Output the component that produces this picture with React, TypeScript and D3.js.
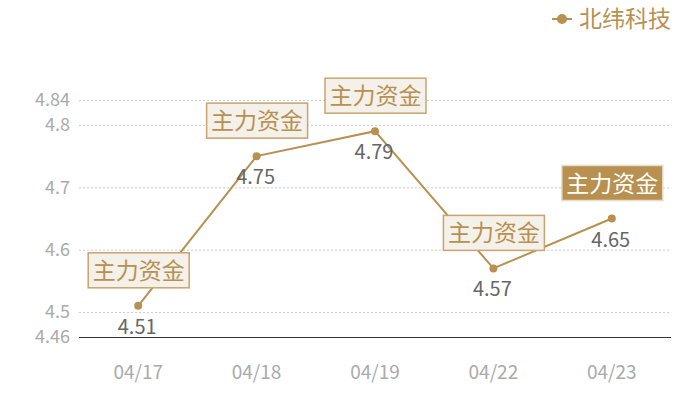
import { useEffect, useRef } from "react";
import * as d3 from "d3";

const dates = ["04/17", "04/18", "04/19", "04/22", "04/23"];
const prices = [4.51, 4.75, 4.79, 4.57, 4.65];
const tags = ["主力资金", "主力资金", "主力资金", "主力资金", "主力资金"];
const highlighted = [false, false, false, false, true];
const yTicks = [4.46, 4.5, 4.6, 4.7, 4.8, 4.84];
const seriesName = "北纬科技";

const GOLD = "#b8904f";
const FONT = "'Noto Sans CJK SC', 'Open Sans', sans-serif";

export default function App() {
  const svgRef = useRef<SVGSVGElement>(null);

  useEffect(() => {
    if (!svgRef.current) return;
    const svg = d3.select(svgRef.current);
    svg.selectAll("*").remove();

    const width = 700;
    const height = 400;
    const margin = { top: 100, right: 29, bottom: 63, left: 79 };

    const x = d3
      .scaleBand<string>()
      .domain(dates)
      .range([margin.left, width - margin.right]);
    const y = d3
      .scaleLinear()
      .domain([4.46, 4.84])
      .range([height - margin.bottom, margin.top]);
    const cx = (i: number) => x(dates[i])! + x.bandwidth() / 2;

    // Grid lines
    svg
      .append("g")
      .selectAll("line")
      .data(yTicks.filter((t) => t !== 4.46))
      .join("line")
      .attr("x1", margin.left)
      .attr("x2", width - margin.right)
      .attr("y1", (d) => y(d) + 0.5)
      .attr("y2", (d) => y(d) + 0.5)
      .attr("stroke", "#cccccc")
      .attr("stroke-dasharray", "2,2");

    // Base axis line
    svg
      .append("line")
      .attr("x1", margin.left)
      .attr("x2", width - margin.right)
      .attr("y1", y(4.46) + 0.5)
      .attr("y2", y(4.46) + 0.5)
      .attr("stroke", "#333")
      .attr("stroke-width", 1);

    // Y tick labels
    svg
      .append("g")
      .selectAll("text")
      .data(yTicks)
      .join("text")
      .attr("x", 70)
      .attr("y", (d) => y(d))
      .attr("dy", "0.35em")
      .attr("text-anchor", "end")
      .attr("fill", "#aaaaaa")
      .attr("font-size", 18)
      .attr("font-family", FONT)
      .text((d) => String(d));

    // X tick labels
    svg
      .append("g")
      .selectAll("text")
      .data(dates)
      .join("text")
      .attr("x", (d) => x(d)! + x.bandwidth() / 2)
      .attr("y", 379)
      .attr("text-anchor", "middle")
      .attr("fill", "#aaaaaa")
      .attr("font-size", 19)
      .attr("font-family", FONT)
      .text((d) => d);

    // Line
    const line = d3
      .line<number>()
      .x((_, i) => cx(i))
      .y((d) => y(d));
    svg
      .append("path")
      .datum(prices)
      .attr("d", line)
      .attr("fill", "none")
      .attr("stroke", GOLD)
      .attr("stroke-width", 2);

    // Points
    svg
      .append("g")
      .selectAll("circle")
      .data(prices)
      .join("circle")
      .attr("cx", (_, i) => cx(i))
      .attr("cy", (d) => y(d))
      .attr("r", 4)
      .attr("fill", GOLD);

    // Value labels
    svg
      .append("g")
      .selectAll("text")
      .data(prices)
      .join("text")
      .attr("x", (_, i) => cx(i) - 1)
      .attr("y", (d) => y(d) + 28)
      .attr("text-anchor", "middle")
      .attr("fill", "#666666")
      .attr("font-size", 20)
      .attr("font-family", FONT)
      .text((d) => d.toFixed(2));

    // Tag boxes
    const boxW = 101;
    const boxH = 35;
    const tagG = svg
      .append("g")
      .selectAll("g")
      .data(prices)
      .join("g")
      .attr(
        "transform",
        (d, i) => `translate(${cx(i) - boxW / 2},${y(d) - 36 - boxH / 2})`,
      );
    tagG
      .append("rect")
      .attr("x", 0.5)
      .attr("y", 0.5)
      .attr("width", boxW)
      .attr("height", boxH)
      .attr("fill", (_, i) => (highlighted[i] ? GOLD : "#f4f0ea"))
      .attr("stroke", (_, i) => (highlighted[i] ? "#e8dcc8" : "#c9a46c"))
      .attr("stroke-width", 1.5);
    tagG
      .append("text")
      .attr("x", boxW / 2 + 0.5)
      .attr("y", boxH / 2 + 1)
      .attr("dy", "0.35em")
      .attr("text-anchor", "middle")
      .attr("fill", (_, i) => (highlighted[i] ? "#ffffff" : GOLD))
      .attr("font-size", 23)
      .attr("font-family", FONT)
      .text((_, i) => tags[i]);

    // Legend
    const lg = svg.append("g").attr("transform", "translate(552,19)");
    lg.append("line")
      .attr("x1", 0)
      .attr("x2", 20)
      .attr("stroke", GOLD)
      .attr("stroke-width", 2);
    lg.append("circle").attr("cx", 10).attr("r", 5).attr("fill", GOLD);
    lg.append("text")
      .attr("x", 27)
      .attr("dy", "0.35em")
      .attr("fill", GOLD)
      .attr("font-size", 23)
      .attr("font-family", FONT)
      .text(seriesName);
  }, []);

  return (
    <svg
      ref={svgRef}
      width={700}
      height={400}
      style={{ position: "absolute", left: 0, top: 0, background: "#fff" }}
    />
  );
}
